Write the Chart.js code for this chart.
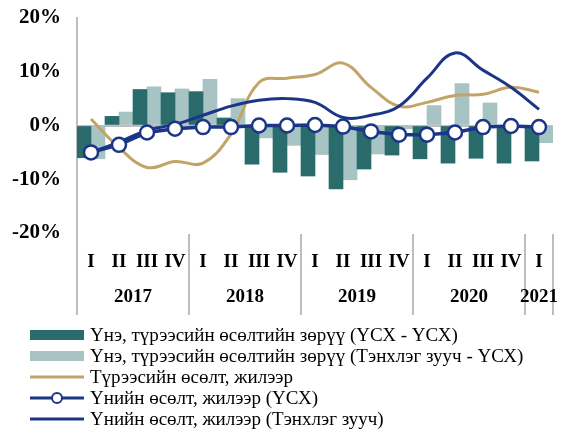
<!DOCTYPE html>
<html>
<head>
<meta charset="utf-8">
<script src="https://cdn.jsdelivr.net/npm/chart.js@4.4.1/dist/chart.umd.min.js"></script>
<style>
  body { margin: 0; background: #fff; }
  #wrap { position: relative; width: 577px; height: 432px; }
  #legend { position: absolute; left: 30px; top: 324px; font-family: "Liberation Serif", "Times New Roman", serif; font-size: 19px; color: #000; }
  #legend .row { height: 21px; display: flex; align-items: center; white-space: nowrap; }
  #legend canvas { margin-right: 6px; }
</style>
</head>
<body>
<div id="wrap">
  <canvas id="chart1" width="577" height="432"></canvas>
  <div id="legend"></div>
</div>
<script>
// data
var quarters = ['I', 'II', 'III', 'IV', 'I', 'II', 'III', 'IV', 'I', 'II', 'III', 'IV', 'I', 'II', 'III', 'IV', 'I'];
var years = ['2017', '2018', '2019', '2020', '2021'];
var yearSpans = [4, 4, 4, 4, 1];

var gapNso = [-6.0, 1.7, 6.7, 6.1, 6.3, 1.4, -7.2, -8.7, -9.4, -11.8, -8.1, -5.5, -6.2, -7.0, -6.1, -7.0, -6.6];
var gapBroker = [-6.2, 2.5, 7.2, 6.8, 8.6, 5.0, -2.3, -3.7, -5.4, -10.1, -5.3, -0.6, 3.7, 7.8, 4.2, 0.0, -3.2];
var rentGrowth = [1.2, -4.1, -7.8, -6.7, -7.0, -1.6, 8.0, 8.8, 9.5, 11.6, 7.1, 3.6, 4.3, 5.6, 5.8, 7.1, 6.2];
var priceNso = [-5.0, -3.6, -1.3, -0.6, -0.3, -0.3, 0.0, 0.0, 0.1, -0.2, -1.1, -1.7, -1.7, -1.3, -0.3, -0.1, -0.3];
var priceBroker = [-5.0, -3.1, -0.9, 0.2, 1.9, 3.6, 4.7, 5.0, 4.3, 1.5, 1.9, 3.6, 8.8, 13.5, 10.3, 7.1, 3.0];

var darkTeal = '#2a6b6b';
var lightTeal = '#a7c3c3';
var tan = '#c3a468';
var navy = '#1b3587';
var axisGray = '#bdbdbd';
var serif = '"Liberation Serif", "Times New Roman", serif';

// year labels and separators under the quarter ticks
var yearAxis = {
    id: 'yearAxis',
    afterDraw: function(chart) {
        var c = chart.ctx, x = chart.scales.x, area = chart.chartArea;
        var step = x.getPixelForValue(1) - x.getPixelForValue(0);
        var top = area.bottom + 1, bottom = 315;
        c.save();
        c.strokeStyle = axisGray;
        c.lineWidth = 2;
        c.beginPath();
        c.moveTo(area.left, area.bottom);
        c.lineTo(area.left, bottom);
        c.stroke();
        c.font = 'bold 19px ' + serif;
        c.fillStyle = '#000';
        c.textAlign = 'center';
        c.textBaseline = 'middle';
        var start = 0;
        for (var i = 0; i < years.length; i++) {
            var end = start + yearSpans[i];
            var x0 = x.getPixelForValue(start) - step / 2;
            var x1 = x.getPixelForValue(end - 1) + step / 2;
            c.beginPath();
            c.moveTo(x1, top);
            c.lineTo(x1, bottom);
            c.stroke();
            c.fillText(years[i], (x0 + x1) / 2, 297);
            start = end;
        }
        c.restore();
    }
};

var ctx = document.getElementById('chart1').getContext('2d');

var myChart = new Chart(ctx, {
    type: 'bar',
    data: {
        labels: quarters,
        datasets: [{
            label: 'Үнэ, түрээсийн өсөлтийн зөрүү (ҮСХ - ҮСХ)',
            data: gapNso,
            backgroundColor: darkTeal,
            order: 3
        }, {
            label: 'Үнэ, түрээсийн өсөлтийн зөрүү (Тэнхлэг зууч - ҮСХ)',
            data: gapBroker,
            backgroundColor: lightTeal,
            order: 3
        }, {
            type: 'line',
            label: 'Түрээсийн өсөлт, жилээр',
            data: rentGrowth,
            borderColor: tan,
            borderWidth: 3,
            pointRadius: 0,
            tension: 0.4,
            order: 2
        }, {
            type: 'line',
            label: 'Үнийн өсөлт, жилээр (ҮСХ)',
            data: priceNso,
            borderColor: navy,
            borderWidth: 3.5,
            pointRadius: 7,
            pointBorderWidth: 2.5,
            pointBackgroundColor: '#fff',
            pointBorderColor: navy,
            tension: 0,
            order: 0
        }, {
            type: 'line',
            label: 'Үнийн өсөлт, жилээр (Тэнхлэг зууч)',
            data: priceBroker,
            borderColor: navy,
            borderWidth: 3,
            pointRadius: 0,
            tension: 0.4,
            order: 1
        }]
    },
    plugins: [yearAxis],
    options: {
        responsive: false,
        animation: false,
        datasets: {
            bar: { categoryPercentage: 1, barPercentage: 1 }
        },
        layout: { padding: { left: 0, top: 18, right: 24, bottom: 116 } },
        scales: {
            x: {
                grid: { display: false },
                border: { display: false },
                ticks: {
                    autoSkip: false,
                    maxRotation: 0,
                    padding: 10,
                    color: '#000',
                    font: { family: serif, size: 19, weight: 'bold' }
                },
                afterFit: function(s) { s.height = 83; }
            },
            y: {
                min: -20,
                max: 20,
                ticks: {
                    stepSize: 10,
                    padding: 16,
                    color: '#000',
                    font: { family: serif, size: 21, weight: 'bold' },
                    callback: function(v) { return v + '%'; }
                },
                grid: {
                    drawTicks: false,
                    lineWidth: 2,
                    color: function(c) { return c.tick && c.tick.value === 0 ? axisGray : 'rgba(0,0,0,0)'; }
                },
                border: { display: true, color: axisGray, width: 2 },
                afterFit: function(s) {
                    s.width = 77;
                    s.paddingTop = 0;
                    s.paddingBottom = 0;
                }
            }
        },
        plugins: {
            legend: { display: false },
            tooltip: { enabled: false }
        }
    }
});

// legend, one entry per row
var legendBox = document.getElementById('legend');
myChart.data.datasets.forEach(function(ds) {
    var row = document.createElement('div');
    row.className = 'row';
    var sw = document.createElement('canvas');
    sw.width = 54; sw.height = 20;
    var g = sw.getContext('2d');
    if (ds.type === 'line') {
        g.strokeStyle = ds.borderColor;
        g.lineWidth = 3;
        g.beginPath(); g.moveTo(0, 10); g.lineTo(54, 10); g.stroke();
        if (ds.pointRadius) {
            g.fillStyle = '#fff';
            g.lineWidth = 2;
            g.beginPath(); g.arc(27, 10, 5, 0, Math.PI * 2); g.fill(); g.stroke();
        }
    } else {
        g.fillStyle = ds.backgroundColor;
        g.fillRect(0, 5, 54, 10);
    }
    var txt = document.createElement('span');
    txt.textContent = ds.label;
    row.appendChild(sw);
    row.appendChild(txt);
    legendBox.appendChild(row);
});
</script>
</body>
</html>
